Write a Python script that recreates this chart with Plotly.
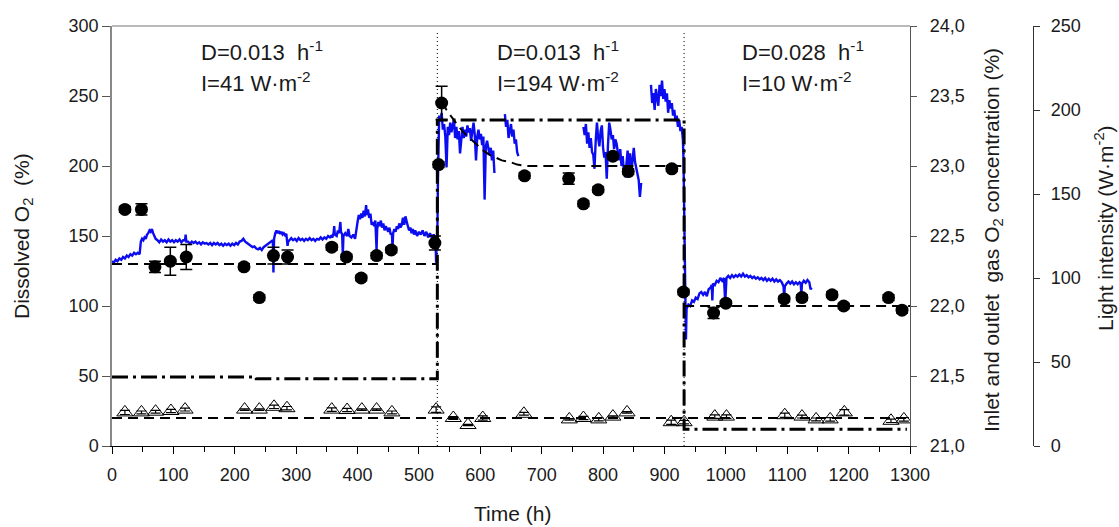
import plotly.graph_objects as go

# ---- Online dissolved O2 probe signal (%), None marks gaps in logging ----
do_t = [0, 3, 6, 9, 12, 15, 18, 21, 24, 27, 30, 33, 36, 39, 42, 45,
        47, 49, 51, 53, 55, 57, 59, 61, 63, 65, 67, 69, 71,
        74, 77, 80, 83, 86, 89, 92, 95, 98, 101, 104, 107, 110, 113, 116,
        119, 120, 121,
        124, 127, 130, 133, 136, 139, 142, 145, 148, 151, 154, 157, 160, 163, 166, 169,
        172, 175, 178, 181, 184, 187, 190, 193, 196, 199, 202, 205, 208,
        211, 214, 217, 220, 223, 226, 229, 232, 235, 238, 241, 244, 247, 250, 253, 256, 259,
        262, 263, 264, 266, 268, 270, 272, 274, 276, 278, 280, 282, 284, 286, 287,
        289, 292, 295, 298, 301, 304, 307, 310, 313, 316, 319, 322, 325, 328, 331, 334,
        337, 340, 343, 346, 349, 352, 355,
        357, 359, 361, 362, 363, 366, 368, 370, 372, 373, 375, 376, 377,
        380, 383, 385, 387, 390, 393, 396, 398, 400, 402, 404, 406, 408, 410, 412, 414,
        415, 417, 419, 421, 423, 425, 427, 429, 431, 432, 434, 436, 438, 440, 442, 444,
        446, 448, 450, 452, 454, 456, 457, 458, 460, 462, 464, 466, 468, 470, 472, 474,
        476, 478, 480, 482, 484, 486, 488, 490, 492, 494, 497, 500, 503, 506, 509, 512,
        515, 518, 521, 524, 527, 528, 529, 530,
        531, 532, 533, 535, 537, 539, 541, 543, 545, 547, 549, 551, 553, 555, 557, 559,
        561, 563, 565, 567, 569, 571, 573, 575, 577, 579, 581, 583, 585, 587, 589, 591,
        593, 595, 597, 599, 601, 603, 605, 607, 609, 611, 613, 615, 617, 619, 621, 623,
        None,
        640, 642, 644, 646, 648, 650, 652, 654, 656, 658, 660, 662,
        None,
        768, 770, 772, 774, 776, 778, 780, 782, 784, 786, 788, 790, 792, 794, 796, 798,
        800, 802, 804, 806, 808, 810, 812, 814, 816, 818, 820, 822, 824, 826, 828, 830,
        832, 834, 836, 838, 840, 842, 844, 846, 848, 850, 852, 854, 856, 858, 860, 862,
        None,
        878, 880, 882, 884, 886, 888, 890, 892, 894, 896, 898, 900, 902, 904, 906, 908,
        910, 912, 914, 916, 918, 920, 922, 924, 926, 928, 930, 931, 932, 933, 934, 935,
        936, 939, 942, 945, 948, 951, 954, 957, 960, 963, 966, 969, 972, 975, 977, 978,
        979, 982, 985, 988, 991, 994, 997, 999, 1001, 1004, 1007, 1010, 1013, 1016, 1019,
        1022, 1025, 1028, 1031, 1034, 1037, 1040, 1043, 1046, 1049, 1052, 1055, 1058,
        1061, 1064, 1067, 1070, 1073, 1076, 1079, 1082, 1085, 1088, 1091, 1094, 1095,
        1096, 1099, 1102, 1105, 1108, 1111, 1114, 1117, 1120, 1122, 1123, 1124, 1127,
        1130, 1133, 1136, 1138, 1140]
do_v = [132, 131, 133, 132, 134, 133, 135, 134, 136, 135, 137, 136, 138, 137, 138, 137,
        146, 148, 147, 149, 148, 151, 152, 154, 153, 155, 152, 150, 148,
        147, 145.5, 147.5, 146, 147, 145.5, 147.5, 146, 147, 145.5, 147, 146, 147.5, 145.5, 147,
        147, 151, 146,
        146, 144.5, 146, 145, 146, 144.5, 145.5, 144, 145.5, 144.5, 145, 144, 145, 143.5, 145,
        144, 145, 143.5, 144.5, 143, 144.5, 143.5, 144.5, 143, 144.5, 143.5, 145, 144, 146,
        146.5, 148, 146, 145, 144, 143.5, 142, 142.5, 141, 140.5, 141.5, 140, 142, 143, 144,
        145, 146.5,
        147, 124, 148, 152, 154, 152, 153.5, 151.5, 153, 151, 152, 150.5, 151.5, 143, 146,
        147, 148.5, 147, 148, 146.5, 148.5, 147, 148, 146.5, 148, 147, 148.5, 147, 148, 146.5,
        148, 147.5, 149, 147.5, 149, 148, 150, 149,
        150, 149, 152, 157, 151, 150, 154, 152, 160, 153, 151, 136, 150,
        152, 150, 155, 150, 149, 151, 148, 156, 160, 165, 162, 166, 163, 168, 164, 172,
        165, 169, 163, 166, 158, 160, 157, 161, 140, 155, 160, 157, 161, 156, 159, 154,
        157, 155, 153, 156, 151, 152, 142, 152, 155, 153, 157, 155, 159, 156, 158, 163,
        158, 164, 159, 157, 154, 156, 152, 155, 151, 154, 150, 153, 151, 154, 150, 153,
        149, 152, 149, 151, 148, 131, 148, 149,
        190, 215, 236, 232, 238, 226, 230, 221, 199, 228, 222, 231, 224, 229, 233, 220,
        228, 219, 225, 209, 222, 228, 220, 226, 221, 229, 224, 227, 218, 226, 231, 222,
        204, 221, 226, 219, 223, 215, 221, 176, 214, 218, 212, 208, 213, 204, 211, 195,
        None,
        237, 228, 233, 220, 225, 230, 221, 226, 216, 219, 210, 207,
        None,
        228, 222, 230, 216, 224, 213, 220, 210, 208, 198, 218, 231, 220, 214, 225, 229,
        213, 206, 210, 191, 215, 231, 226, 219, 222, 212, 219, 216, 210, 204, 212, 200,
        207, 195, 192, 205, 211, 200, 209, 195, 206, 213, 203, 198, 193, 190, 178, 188,
        None,
        258, 245, 252, 240, 255, 248, 243, 258, 250, 261, 248, 255, 246, 252, 238, 247,
        241, 245, 236, 240, 232, 236, 228, 233, 225, 228, 219, 205, 170, 132, 95, 76,
        98, 101, 100, 104, 103, 106, 105, 109, 110, 108, 110, 107, 112, 113, 115, 104,
        116, 115, 118, 117, 120, 118, 120, 102, 120, 121.5, 120, 122, 120.5, 122, 121,
        122.5, 121, 123, 121, 122, 120.5, 121.5, 120, 121, 119.5, 120.5, 119, 120,
        118.5, 120, 118, 119.5, 118, 119.5, 117.5, 119, 117.5, 118.5, 117, 114, 106,
        114, 116, 117.5, 116, 117.5, 115.5, 117, 115.5, 117, 116, 108, 116, 118,
        116.5, 118.5, 117, 112, 113]

# ---- Offline dissolved O2 samples (%) ----
smp_t = [21, 48, 70, 95, 121, 215, 240, 263, 286, 358, 382, 406, 431, 455, 526, 532,
         537, 672, 744, 768, 792, 816, 841, 912, 931, 980, 1000, 1095, 1124, 1173, 1192,
         1265, 1287]
smp_v = [169, 169, 128, 132, 135, 128, 106, 136, 135, 142, 135, 120, 136, 140, 145, 201,
         245, 193, 191, 173, 183, 207, 196, 198, 110, 95, 102, 105, 106, 108, 100, 106, 97]
smp_err = [2, 4, 4, 10, 9, 2, 2, 6, 5, 2, 2, 2, 2, 2, 5, 2,
           12, 2, 4, 2, 2, 2, 2, 2, 2, 4, 2, 2, 2, 2, 2, 2, 2]

# ---- Model dissolved O2 (%) per steady state ----
mod_t = [0, 530, None, 537, 545, 555, 565, 575, 585, 595, 605, 615, 625, 635, 648, 660,
         674, 932, None, 932, 1300]
mod_v = [130, 130, None, 246, 240, 234, 228, 223, 219, 215, 211, 208, 206, 204, 203,
         201, 200, 200, None, 100, 100]

# ---- Outlet gas O2 (%) and inlet gas O2 (%) ----
gas_t = [21, 48, 71, 96, 119, 216, 240, 264, 285, 358, 383, 407, 431, 456, 528, 556,
         580, 604, 671, 745, 768, 793, 816, 839, 911, 932, 982, 1001, 1096, 1124, 1147,
         1170, 1193, 1269, 1290]
gas_v = [21.24, 21.24, 21.245, 21.25, 21.26, 21.26, 21.26, 21.28, 21.27, 21.26, 21.257,
         21.26, 21.26, 21.24, 21.26, 21.20, 21.15, 21.20, 21.23, 21.19, 21.20, 21.19,
         21.21, 21.24, 21.17, 21.17, 21.21, 21.21, 21.22, 21.21, 21.19, 21.19, 21.24,
         21.18, 21.19]
gas_err = [0.015, 0.01, 0.01, 0.012, 0.01, 0.005, 0.005, 0.012, 0.012, 0.012, 0.012,
           0.005, 0.005, 0.01, 0.02, 0.01, 0.005, 0.015, 0.01, 0.005, 0.012, 0.01,
           0.005, 0.005, 0.015, 0.012, 0.012, 0.012, 0.015, 0.01, 0.01, 0.012, 0.02,
           0.012, 0.012]
inlet_t = [0, 1300]
inlet_v = [21.2, 21.2]

# ---- Light intensity (W·m-2) ----
light_t = [0, 235, 530, 932, 1295]
light_v = [41, 40, 194, 10, 10]

# ---- Condition labels and phase changes ----
phase_t = [530, 932]
phase_x = [142, 624, 1023]
phase_D = ["0.013", "0.013", "0.028"]
phase_I = ["41", "194", "10"]

x_ticks = list(range(0, 1301, 100))
do_ticks = list(range(0, 301, 50))
gas_ticks = [21.0, 21.5, 22.0, 22.5, 23.0, 23.5, 24.0]
gas_tick_text = ["21,0", "21,5", "22,0", "22,5", "23,0", "23,5", "24,0"]
light_ticks = list(range(0, 251, 50))

FONT = "Liberation Sans, Arial, sans-serif"
TXT = "#1a1a1a"

# page / plot-area geometry in pixels
W, H = 1119, 527
L, R, T, B = 112, 10, 26, 81
pw, ph = W - L - R, H - T - B
x_end = 798 / pw


def px(xp, yp):
    """Pixel position on the page -> paper coordinates."""
    return (xp - L) / pw, 1 - (yp - T) / ph


fig = go.Figure()

fig.add_trace(go.Scatter(x=do_t, y=do_v, mode="lines", connectgaps=False,
                         line=dict(color="#0c0cf0", width=2.4), yaxis="y",
                         hoverinfo="skip"))
fig.add_trace(go.Scatter(x=mod_t, y=mod_v, mode="lines", connectgaps=False,
                         line=dict(color="black", width=2, dash="10px,6px"), yaxis="y"))
fig.add_trace(go.Scatter(x=smp_t, y=smp_v, mode="markers", yaxis="y",
                         marker=dict(symbol="circle", size=13, color="black"),
                         error_y=dict(type="data", array=smp_err, color="black",
                                      thickness=1.5, width=6)))
fig.add_trace(go.Scatter(x=inlet_t, y=inlet_v, mode="lines", yaxis="y2",
                         line=dict(color="black", width=2, dash="10px,6px")))
fig.add_trace(go.Scatter(x=gas_t, y=gas_v, mode="markers", yaxis="y2",
                         marker=dict(symbol="triangle-up-open", size=14, color="black",
                                     line=dict(width=1, color="black")),
                         error_y=dict(type="data", array=gas_err, color="black",
                                      thickness=1.2, width=5)))
fig.add_trace(go.Scatter(x=light_t, y=light_v, mode="lines", yaxis="y3",
                         line=dict(color="black", width=3, shape="hv",
                                   dash="16px,5px,3px,5px")))

for t in phase_t:
    fig.add_shape(type="line", xref="x", yref="paper", x0=t, x1=t, y0=0, y1=0.99,
                  line=dict(color="black", width=1, dash="1px,3px"))

# top frame line
fig.add_shape(type="line", xref="paper", yref="paper", x0=0, x1=x_end, y0=1, y1=1,
              line=dict(color="#777", width=1.2))

for x, d, i in zip(phase_x, phase_D, phase_I):
    fig.add_annotation(x=x, y=282, xref="x", yref="y", xanchor="left", yanchor="middle",
                       showarrow=False, text="D=%s\u00a0 h<sup>-1</sup>" % d,
                       font=dict(family=FONT, size=22, color=TXT))
    fig.add_annotation(x=x, y=260, xref="x", yref="y", xanchor="left", yanchor="middle",
                       showarrow=False, text="I=%s W\u00b7m<sup>-2</sup>" % i,
                       font=dict(family=FONT, size=22, color=TXT))

# axis titles
titles = [
    (23, 236, "Dissolved O<sub>2</sub>\u00a0 (%)", -90),
    (512, 513, "Time (h)", 0),
    (993, 240, "Inlet and outlet\u00a0 gas O<sub>2</sub> concentration (%)", -90),
    (1104, 228, "Light intensity (W\u00b7m<sup>-2</sup>)", -90),
]
for xp, yp, text, ang in titles:
    xx, yy = px(xp, yp)
    fig.add_annotation(x=xx, y=yy, xref="paper", yref="paper", showarrow=False,
                       xanchor="center", yanchor="middle",
                       text=text, textangle=ang,
                       font=dict(family=FONT, size=21, color=TXT))

fig.update_layout(
    width=W, height=H,
    margin=dict(l=L, r=R, t=T, b=B, autoexpand=False),
    paper_bgcolor="white", plot_bgcolor="white",
    showlegend=False,
    font=dict(family=FONT, size=18, color=TXT),
    xaxis=dict(domain=[0, x_end], range=[0, 1300], tickvals=x_ticks, automargin=False,
               ticks="outside", ticklen=7, tickcolor="black", showline=True,
               linecolor="black", linewidth=1.2, showgrid=False, zeroline=False,
               tickfont=dict(size=18), ticklabelstandoff=5,
               minor=dict(dtick=50, tick0=0, ticks="outside", ticklen=5,
                          tickcolor="black", showgrid=False)),
    yaxis=dict(range=[0, 300], tickvals=do_ticks, ticks="outside", ticklen=8,
               automargin=False,
               tickcolor="#555", showline=True, linecolor="#888", linewidth=1.5,
               showgrid=False, zeroline=False, tickfont=dict(size=18)),
    yaxis2=dict(range=[21, 24], overlaying="y", side="right", anchor="x",
                automargin=False, ticklabelstandoff=9,
                tickvals=gas_ticks, ticktext=gas_tick_text, ticks="outside",
                ticklen=6, tickcolor="#555", showline=True, linecolor="#555",
                linewidth=1.2, showgrid=False, zeroline=False, tickfont=dict(size=18)),
    yaxis3=dict(range=[0, 250], overlaying="y", side="right", anchor="free",
                automargin=False, ticklabelstandoff=7,
                position=(1033 - L) / pw, tickvals=light_ticks, ticks="outside",
                ticklen=6, tickcolor="#333", showline=True, linecolor="#333",
                linewidth=1.2, showgrid=False, zeroline=False, tickfont=dict(size=18)),
)

fig.write_html("out.html")
